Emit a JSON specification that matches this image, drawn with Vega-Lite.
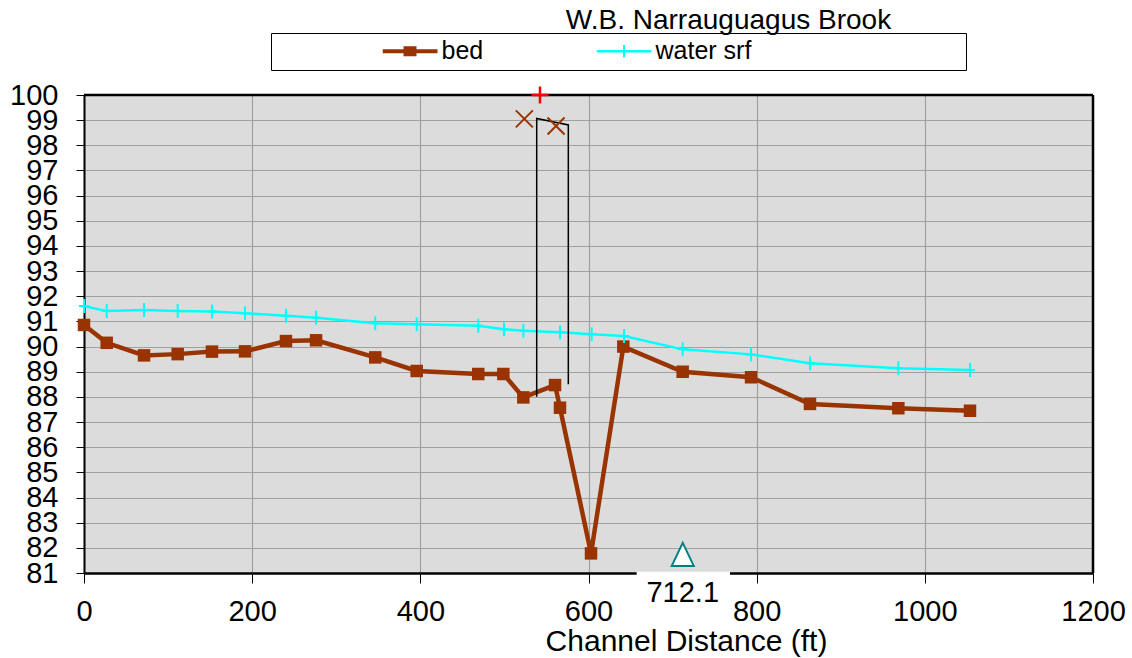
{
  "$schema": "https://vega.github.io/schema/vega-lite/v6.json",
  "width": 1009,
  "height": 478,
  "autosize": {"type": "none"},
  "padding": {"left": 84, "top": 95, "right": 39, "bottom": 85},
  "background": "white",
  "config": {
    "font": "Liberation Sans",
    "view": {"fill": "#DCDCDC", "stroke": null}
  },
  "title": {
    "text": "W.B. Narrauguagus Brook",
    "font": "Liberation Sans",
    "fontSize": 28,
    "fontWeight": "normal",
    "color": "black",
    "anchor": "middle",
    "frame": "group",
    "dx": 140,
    "offset": -2
  },
  "datasets": {
    "profile": [
      {"series": "bed", "x": 0, "y": 90.86},
      {"series": "bed", "x": 27.0, "y": 90.15},
      {"series": "bed", "x": 71.4, "y": 89.65},
      {"series": "bed", "x": 111.4, "y": 89.7},
      {"series": "bed", "x": 152.2, "y": 89.8},
      {"series": "bed", "x": 191.5, "y": 89.81},
      {"series": "bed", "x": 240.2, "y": 90.22},
      {"series": "bed", "x": 276.0, "y": 90.25},
      {"series": "bed", "x": 346.4, "y": 89.57},
      {"series": "bed", "x": 395.7, "y": 89.03},
      {"series": "bed", "x": 468.9, "y": 88.91},
      {"series": "bed", "x": 498.7, "y": 88.91},
      {"series": "bed", "x": 522.5, "y": 87.98},
      {"series": "bed", "x": 560.2, "y": 88.47},
      {"series": "bed", "x": 566.1, "y": 87.57},
      {"series": "bed", "x": 603.0, "y": 81.78},
      {"series": "bed", "x": 641.4, "y": 90.0},
      {"series": "bed", "x": 712.0, "y": 89.0},
      {"series": "bed", "x": 793.3, "y": 88.78},
      {"series": "bed", "x": 863.4, "y": 87.72},
      {"series": "bed", "x": 968.5, "y": 87.55},
      {"series": "bed", "x": 1053.7, "y": 87.45},
      {"series": "water srf", "x": 0, "y": 91.61},
      {"series": "water srf", "x": 27.0, "y": 91.41},
      {"series": "water srf", "x": 71.4, "y": 91.45},
      {"series": "water srf", "x": 111.4, "y": 91.41},
      {"series": "water srf", "x": 152.2, "y": 91.39},
      {"series": "water srf", "x": 191.5, "y": 91.32},
      {"series": "water srf", "x": 240.2, "y": 91.23},
      {"series": "water srf", "x": 276.0, "y": 91.15},
      {"series": "water srf", "x": 346.4, "y": 90.93},
      {"series": "water srf", "x": 395.7, "y": 90.89},
      {"series": "water srf", "x": 468.9, "y": 90.83},
      {"series": "water srf", "x": 499.5, "y": 90.69},
      {"series": "water srf", "x": 522.5, "y": 90.63},
      {"series": "water srf", "x": 566.1, "y": 90.57},
      {"series": "water srf", "x": 603.8, "y": 90.49},
      {"series": "water srf", "x": 642.2, "y": 90.42},
      {"series": "water srf", "x": 712.0, "y": 89.89},
      {"series": "water srf", "x": 793.3, "y": 89.69},
      {"series": "water srf", "x": 863.4, "y": 89.34},
      {"series": "water srf", "x": 968.5, "y": 89.14},
      {"series": "water srf", "x": 1053.7, "y": 89.07}
    ],
    "bridge": [
      {"o": 1, "x": 538.4, "y": 88.01},
      {"o": 2, "x": 538.4, "y": 99.07},
      {"o": 3, "x": 576.0, "y": 98.81},
      {"o": 4, "x": 576.0, "y": 88.5}
    ],
    "points": [
      {"kind": "x", "x": 523.7, "y": 99.05},
      {"kind": "x", "x": 561.4, "y": 98.77},
      {"kind": "plus", "x": 542.3, "y": 100.0},
      {"kind": "culvert", "x": 712.1, "y": 81.74, "label": "712.1"}
    ]
  },
  "layer": [
    {
      "data": {"name": "profile"},
      "transform": [{"filter": "datum.series == 'bed'"}],
      "mark": {"type": "line", "strokeWidth": 4.5, "color": "#993300"},
      "encoding": {
        "x": {
          "field": "x", "type": "quantitative",
          "scale": {"domain": [0, 1200], "nice": false, "zero": false},
          "axis": {
            "values": [0, 200, 400, 600, 800, 1000, 1200],
            "tickCount": 7,
            "format": "d",
            "grid": true, "gridColor": "#A0A0A0", "gridWidth": 1.2,
            "domainColor": "black", "domainWidth": 2.5,
            "tickColor": "black", "tickSize": 10, "tickWidth": 1,
            "labelFont": "Liberation Sans", "labelFontSize": 29, "labelColor": "black",
            "labelPadding": 14, "labelFlush": false, "labelOverlap": false,
            "title": "Channel Distance (ft)",
            "titleFont": "Liberation Sans", "titleFontSize": 30, "titleFontWeight": "normal",
            "titleColor": "black", "titleX": 602, "titleY": 77, "titleBaseline": "alphabetic"
          }
        },
        "y": {
          "field": "y", "type": "quantitative",
          "scale": {"domain": [81, 100], "nice": false, "zero": false},
          "axis": {
            "values": [81, 82, 83, 84, 85, 86, 87, 88, 89, 90, 91, 92, 93, 94, 95, 96, 97, 98, 99, 100],
            "tickCount": 20,
            "format": "d",
            "grid": true, "gridColor": "#A0A0A0", "gridWidth": 1.2,
            "domainColor": "black", "domainWidth": 2,
            "tickColor": "black", "tickSize": 8, "tickWidth": 1,
            "labelFont": "Liberation Sans", "labelFontSize": 29, "labelColor": "black",
            "labelPadding": 18, "labelOverlap": false, "labelFlush": false,
            "title": null
          }
        }
      }
    },
    {
      "data": {"name": "profile"},
      "transform": [{"filter": "datum.series == 'water srf'"}],
      "mark": {"type": "line", "strokeWidth": 2.5, "color": "#00FFFF"},
      "encoding": {
        "x": {"field": "x", "type": "quantitative"},
        "y": {"field": "y", "type": "quantitative"}
      }
    },
    {
      "data": {"name": "profile"},
      "transform": [{"filter": "datum.series == 'none'"}],
      "mark": {"type": "point", "filled": true, "opacity": 1},
      "encoding": {
        "x": {"field": "x", "type": "quantitative"},
        "y": {"field": "y", "type": "quantitative"},
        "color": {
          "field": "series", "type": "nominal",
          "scale": {"domain": ["bed", "water srf"], "range": ["#993300", "#00FFFF"]},
          "legend": {
            "orient": "none", "legendX": 187, "legendY": -62, "direction": "horizontal",
            "fillColor": "white", "strokeColor": "black", "padding": 5.5, "clipHeight": 25,
            "symbolSize": 3025, "symbolStrokeWidth": 0, "symbolOpacity": 1,
            "labelFont": "Liberation Sans", "labelFontSize": 25, "labelColor": "black",
            "labelOffset": 4, "labelLimit": 600, "columnPadding": 113,
            "title": "\u00a0", "titleOrient": "left", "titleFontSize": 1, "titlePadding": 106,
            "labelExpr": "datum.label == 'water srf' ? datum.label + '\u00a0\u00a0\u00a0\u00a0\u00a0\u00a0\u00a0\u00a0\u00a0\u00a0\u00a0\u00a0\u00a0\u00a0\u00a0\u00a0\u00a0\u00a0\u00a0\u00a0\u00a0\u00a0\u00a0\u00a0\u00a0\u00a0\u00a0\u00a0\u00a0\u00a0\u200b' : datum.label"
          }
        },
        "shape": {
          "field": "series", "type": "nominal",
          "scale": {
            "domain": ["bed", "water srf"],
            "range": [
              "M-1,-0.073H-0.236V-0.18H0.236V-0.073H1V0.073H0.236V0.18H-0.236V0.073H-1Z",
              "M-1,-0.045H-0.036V-0.23H0.036V-0.045H1V0.045H0.036V0.23H-0.036V0.045H-1Z"
            ]
          },
          "legend": {
            "orient": "none", "legendX": 187, "legendY": -62, "direction": "horizontal",
            "fillColor": "white", "strokeColor": "black", "padding": 5.5, "clipHeight": 25,
            "symbolSize": 3025, "symbolStrokeWidth": 0, "symbolOpacity": 1,
            "labelFont": "Liberation Sans", "labelFontSize": 25, "labelColor": "black",
            "labelOffset": 4, "labelLimit": 600, "columnPadding": 113,
            "title": "\u00a0", "titleOrient": "left", "titleFontSize": 1, "titlePadding": 106,
            "labelExpr": "datum.label == 'water srf' ? datum.label + '\u00a0\u00a0\u00a0\u00a0\u00a0\u00a0\u00a0\u00a0\u00a0\u00a0\u00a0\u00a0\u00a0\u00a0\u00a0\u00a0\u00a0\u00a0\u00a0\u00a0\u00a0\u00a0\u00a0\u00a0\u00a0\u00a0\u00a0\u00a0\u00a0\u00a0\u200b' : datum.label"
          }
        }
      }
    },
    {
      "data": {"values": [{"y": 100}]},
      "mark": {"type": "rule", "color": "black", "strokeWidth": 2.5},
      "encoding": {"y": {"field": "y", "type": "quantitative"}}
    },
    {
      "data": {"values": [{"x": 1200}]},
      "mark": {"type": "rule", "color": "black", "strokeWidth": 2.5},
      "encoding": {"x": {"field": "x", "type": "quantitative"}}
    },
    {
      "data": {"name": "profile"},
      "transform": [{"filter": "datum.series == 'bed'"}],
      "mark": {"type": "point", "shape": "square", "filled": true, "size": 156, "color": "#993300", "opacity": 1},
      "encoding": {
        "x": {"field": "x", "type": "quantitative"},
        "y": {"field": "y", "type": "quantitative"}
      }
    },
    {
      "data": {"name": "profile"},
      "transform": [{"filter": "datum.series == 'water srf'"}],
      "mark": {"type": "point", "shape": "M-0.7,0H0.7M0,-1V1", "filled": false, "size": 196, "stroke": "#00FFFF", "strokeWidth": 2, "opacity": 1},
      "encoding": {
        "x": {"field": "x", "type": "quantitative"},
        "y": {"field": "y", "type": "quantitative"}
      }
    },
    {
      "data": {"name": "bridge"},
      "mark": {"type": "line", "color": "black", "strokeWidth": 1.5},
      "encoding": {
        "x": {"field": "x", "type": "quantitative"},
        "y": {"field": "y", "type": "quantitative"},
        "order": {"field": "o", "type": "quantitative"}
      }
    },
    {
      "data": {"name": "points"},
      "transform": [{"filter": "datum.kind == 'x'"}],
      "mark": {"type": "point", "shape": "M-1,-1L1,1M-1,1L1,-1", "filled": false, "size": 289, "stroke": "#993300", "strokeWidth": 2, "opacity": 1},
      "encoding": {
        "x": {"field": "x", "type": "quantitative"},
        "y": {"field": "y", "type": "quantitative"}
      }
    },
    {
      "data": {"name": "points"},
      "transform": [{"filter": "datum.kind == 'plus'"}],
      "mark": {"type": "point", "shape": "M-1,0H1M0,-1V1", "filled": false, "size": 289, "stroke": "#FF0000", "strokeWidth": 2.5, "opacity": 1},
      "encoding": {
        "x": {"field": "x", "type": "quantitative"},
        "y": {"field": "y", "type": "quantitative"}
      }
    },
    {
      "data": {"values": [{}]},
      "mark": {"type": "rect", "fill": "white", "stroke": null},
      "encoding": {
        "x": {"datum": 657.3, "type": "quantitative"},
        "x2": {"datum": 768.3},
        "y": {"datum": 81.05, "type": "quantitative"},
        "y2": {"datum": 80.45}
      }
    },
    {
      "data": {"name": "points"},
      "transform": [{"filter": "datum.kind == 'culvert'"}],
      "mark": {"type": "point", "shape": "M0,-1.05L1,1.05L-1,1.05Z", "filled": true, "fill": "white", "stroke": "#008080", "strokeWidth": 2, "size": 484, "opacity": 1},
      "encoding": {
        "x": {"field": "x", "type": "quantitative"},
        "y": {"field": "y", "type": "quantitative"}
      }
    },
    {
      "data": {"name": "points"},
      "transform": [{"filter": "datum.kind == 'culvert'"}],
      "mark": {"type": "text", "font": "Liberation Sans", "fontSize": 29, "color": "black", "align": "center", "baseline": "middle"},
      "encoding": {
        "x": {"field": "x", "type": "quantitative"},
        "y": {"datum": 80.2, "type": "quantitative"},
        "text": {"field": "label", "type": "nominal"}
      }
    }
  ]
}
